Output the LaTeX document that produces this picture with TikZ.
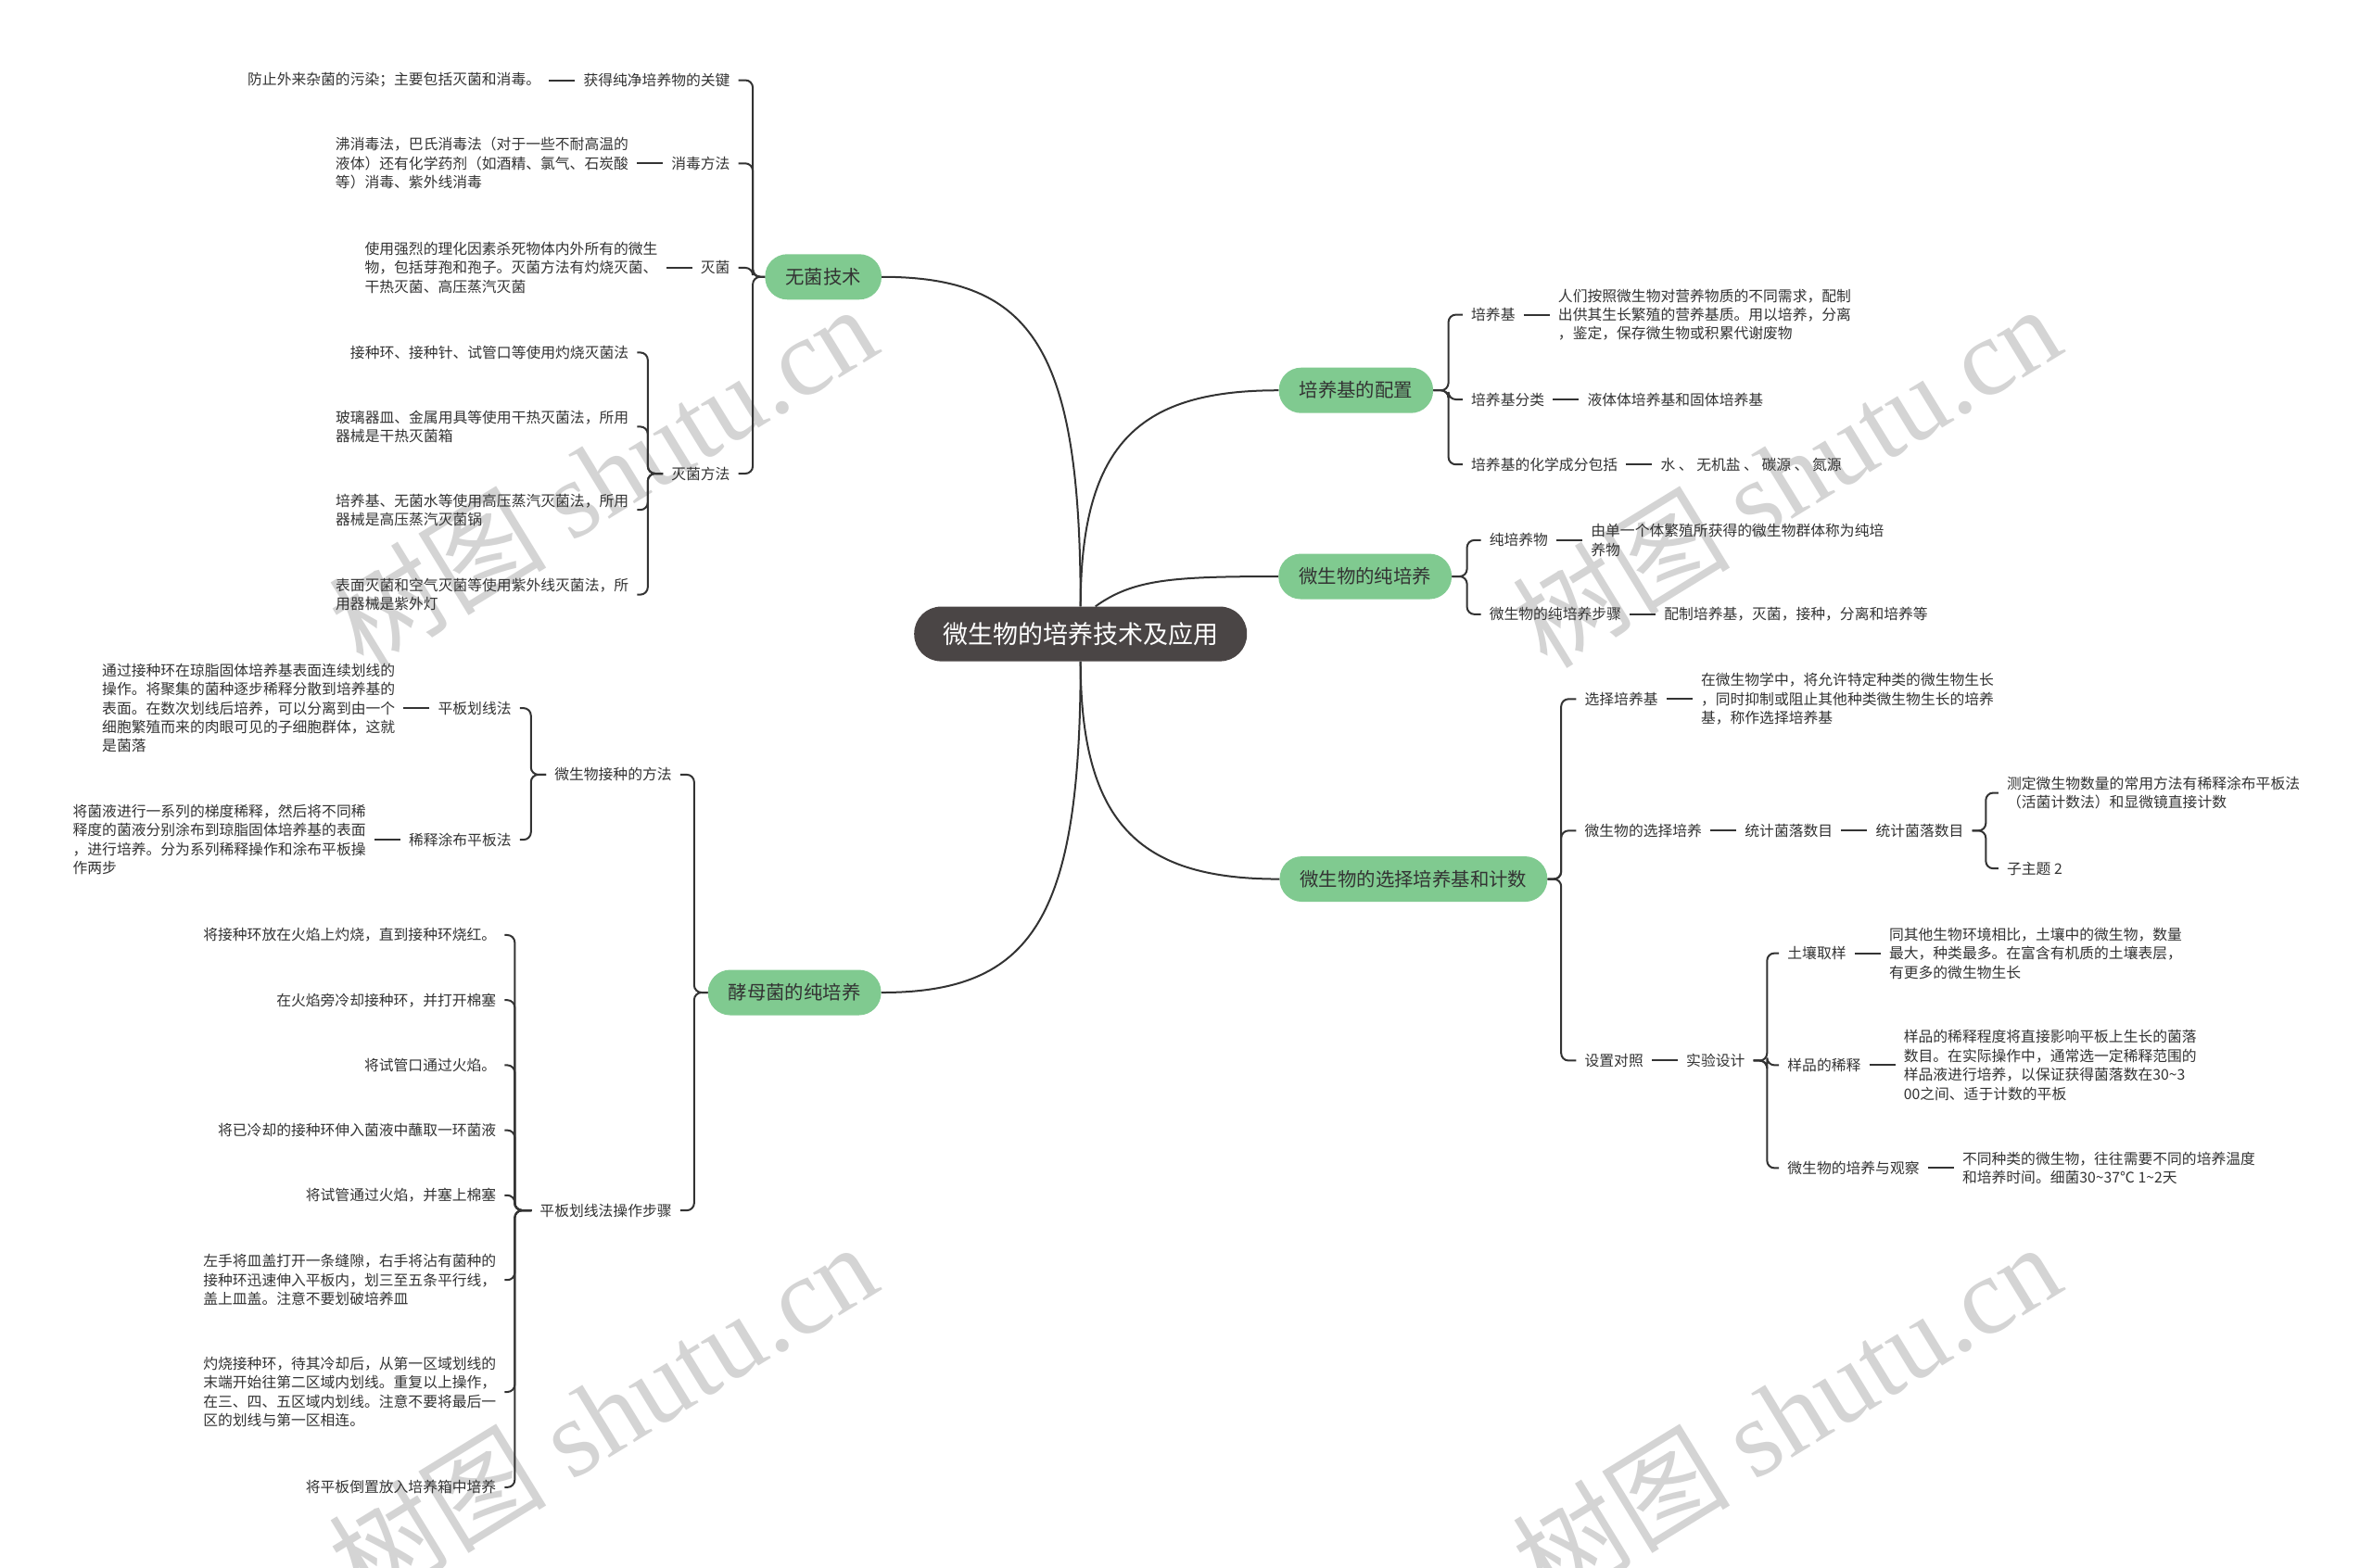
\documentclass[tikz,border=0pt]{standalone}
\usepackage{fontspec}
\setmainfont{Noto Sans CJK SC}
\newfontfamily\wmlatin{Liberation Serif}
\usetikzlibrary{positioning}
\definecolor{rootgray}{HTML}{4A4545}
\definecolor{leafgreen}{HTML}{80CA90}
\definecolor{linegray}{HTML}{333333}
\definecolor{textgray}{HTML}{333333}
\definecolor{wmgray}{HTML}{D4D4D4}

\begin{document}
\begin{tikzpicture}[x=1.6327pt, y=-1.6327pt,
	every node/.style={font=\fontsize{15.8}{20.4}\selectfont, text=textgray},
	topic/.style={fill=rootgray, text=white, rounded corners=29pt, minimum height=59pt, inner xsep=31pt, font=\fontsize{27}{27}\selectfont},
	branch/.style={fill=leafgreen, rounded corners=24pt, minimum height=49pt, inner xsep=22pt, font=\fontsize{20.4}{20.4}\selectfont},
	leaf/.style={inner xsep=9pt, inner ysep=2pt, align=left},
	link/.style={draw=linegray, line width=2pt},
	fork/.style={link, rounded corners=8pt},
	wmark/.style={text=wmgray, inner sep=0pt, font=\fontsize{118}{118}\selectfont, rotate=31.5}]
	\useasboundingbox[fill=white] (0,0) rectangle (1568,1036);
	\node[wmark] (wm1) at (398,314) {树图 {\wmlatin shutu.cn}};
	\node[wmark] (wm2) at (1180,314) {树图 {\wmlatin shutu.cn}};
	\node[wmark] (wm3) at (398,934) {树图 {\wmlatin shutu.cn}};
	\node[wmark] (wm4) at (1180,934) {树图 {\wmlatin shutu.cn}};

	\node[topic] (root) at (714,419) {微生物的培养技术及应用};
	\node[branch] (wjjs) at (544,183) {无菌技术};
	\node[branch] (jmj) at (525,656) {酵母菌的纯培养};
	\node[branch] (pyj) at (896,258) {培养基的配置};
	\node[branch] (cpy) at (902,381) {微生物的纯培养};
	\node[branch] (xzpy) at (934,581) {微生物的选择培养基和计数};
	\draw[link] (root.north) .. controls +(0,-170) and +(100,0) .. (wjjs.east);
	\draw[link] (root.south) .. controls +(0,170) and +(100,0) .. (jmj.east);
	\draw[link] (root.north) .. controls +(0,-110) and +(-90,0) .. (pyj.west);
	\draw[link] ([xshift=16pt]root.north) .. controls +(25,-18) and +(-70,0) .. (cpy.west);
	\draw[link] (root.south) .. controls +(0,110) and +(-90,0) .. (xzpy.west);

	\node[leaf, anchor=east] (wj1) at (488,53) {获得纯净培养物的关键};
	\node[leaf, left=28pt of wj1] (wj1d) {防止外来杂菌的污染；主要包括灭菌和消毒。};
	\node[leaf, anchor=east] (wj2) at (488,108) {消毒方法};
	\node[leaf, left=28pt of wj2] (wj2d) {沸消毒法，巴氏消毒法（对于一些不耐高温的\\液体）还有化学药剂（如酒精、氯气、石炭酸\\等）消毒、紫外线消毒};
	\node[leaf, anchor=east] (wj3) at (488,177) {灭菌};
	\node[leaf, left=28pt of wj3] (wj3d) {使用强烈的理化因素杀死物体内外所有的微生\\物，包括芽孢和孢子。灭菌方法有灼烧灭菌、\\干热灭菌、高压蒸汽灭菌};
	\node[leaf, anchor=east] (wj4) at (488,313) {灭菌方法};
	\node[leaf, anchor=east] (mj1) at (421,233) {接种环、接种针、试管口等使用灼烧灭菌法};
	\node[leaf, anchor=east] (mj2) at (421,282) {玻璃器皿、金属用具等使用干热灭菌法，所用\\器械是干热灭菌箱};
	\node[leaf, anchor=east] (mj3) at (421,337) {培养基、无菌水等使用高压蒸汽灭菌法，所用\\器械是高压蒸汽灭菌锅};
	\node[leaf, anchor=east] (mj4) at (421,393) {表面灭菌和空气灭菌等使用紫外线灭菌法，所\\用器械是紫外灯};
	\draw[link] (wj1) -- (wj1d);
	\draw[link] (wj2) -- (wj2d);
	\draw[link] (wj3) -- (wj3d);
	\draw[fork] (wjjs.west) -- ++(-8,0) |- (wj1.east);
	\draw[fork] (wjjs.west) -- ++(-8,0) |- (wj2.east);
	\draw[fork] (wjjs.west) -- ++(-8,0) |- (wj3.east);
	\draw[fork] (wjjs.west) -- ++(-8,0) |- (wj4.east);
	\draw[fork] (wj4.west) -- ++(-10,0) |- (mj1.east);
	\draw[fork] (wj4.west) -- ++(-10,0) |- (mj2.east);
	\draw[fork] (wj4.west) -- ++(-10,0) |- (mj3.east);
	\draw[fork] (wj4.west) -- ++(-10,0) |- (mj4.east);

	\node[leaf, anchor=east] (jz) at (449.5,512) {微生物接种的方法};
	\node[leaf, anchor=east] (jz1) at (343.5,468) {平板划线法};
	\node[leaf, left=28pt of jz1] (jz1d) {通过接种环在琼脂固体培养基表面连续划线的\\操作。将聚集的菌种逐步稀释分散到培养基的\\表面。在数次划线后培养，可以分离到由一个\\细胞繁殖而来的肉眼可见的子细胞群体，这就\\是菌落};
	\node[leaf, anchor=east] (jz2) at (343.5,555) {稀释涂布平板法};
	\node[leaf, left=28pt of jz2] (jz2d) {将菌液进行一系列的梯度稀释，然后将不同稀\\释度的菌液分别涂布到琼脂固体培养基的表面\\，进行培养。分为系列稀释操作和涂布平板操\\作两步};
	\node[leaf, anchor=east] (bz) at (449.5,800) {平板划线法操作步骤};
	\node[leaf, anchor=east] (bz1) at (333.5,618) {将接种环放在火焰上灼烧，直到接种环烧红。};
	\node[leaf, anchor=east] (bz2) at (333.5,661) {在火焰旁冷却接种环，并打开棉塞};
	\node[leaf, anchor=east] (bz3) at (333.5,704) {将试管口通过火焰。};
	\node[leaf, anchor=east] (bz4) at (333.5,747) {将已冷却的接种环伸入菌液中蘸取一环菌液};
	\node[leaf, anchor=east] (bz5) at (333.5,790) {将试管通过火焰，并塞上棉塞};
	\node[leaf, anchor=east] (bz6) at (333.5,846) {左手将皿盖打开一条缝隙，右手将沾有菌种的\\接种环迅速伸入平板内，划三至五条平行线，\\盖上皿盖。注意不要划破培养皿};
	\node[leaf, anchor=east] (bz7) at (333.5,920) {灼烧接种环，待其冷却后，从第一区域划线的\\末端开始往第二区域内划线。重复以上操作，\\在三、四、五区域内划线。注意不要将最后一\\区的划线与第一区相连。};
	\node[leaf, anchor=east] (bz8) at (333.5,983) {将平板倒置放入培养箱中培养};
	\draw[link] (jz1) -- (jz1d);
	\draw[link] (jz2) -- (jz2d);
	\draw[fork] (jmj.west) -- ++(-9,0) |- (jz.east);
	\draw[fork] (jmj.west) -- ++(-9,0) |- (bz.east);
	\draw[fork] (jz.west) -- ++(-10,0) |- (jz1.east);
	\draw[fork] (jz.west) -- ++(-10,0) |- (jz2.east);
	\draw[fork] (bz.west) -- ++(-11,0) |- (bz1.east);
	\draw[fork] (bz.west) -- ++(-11,0) |- (bz2.east);
	\draw[fork] (bz.west) -- ++(-11,0) |- (bz3.east);
	\draw[fork] (bz.west) -- ++(-11,0) |- (bz4.east);
	\draw[fork] (bz.west) -- ++(-11,0) |- (bz5.east);
	\draw[fork] (bz.west) -- ++(-11,0) |- (bz6.east);
	\draw[fork] (bz.west) -- ++(-11,0) |- (bz7.east);
	\draw[fork] (bz.west) -- ++(-11,0) |- (bz8.east);

	\node[leaf, anchor=west] (py1) at (966.5,208) {培养基};
	\node[leaf, right=28pt of py1] (py1d) {人们按照微生物对营养物质的不同需求，配制\\出供其生长繁殖的营养基质。用以培养，分离\\，鉴定，保存微生物或积累代谢废物};
	\node[leaf, anchor=west] (py2) at (966.5,264) {培养基分类};
	\node[leaf, right=28pt of py2] (py2d) {液体体培养基和固体培养基};
	\node[leaf, anchor=west] (py3) at (966.5,307) {培养基的化学成分包括};
	\node[leaf, right=28pt of py3] (py3d) {水 、 无机盐 、 碳源 、 氮源};
	\draw[link] (py1) -- (py1d);
	\draw[link] (py2) -- (py2d);
	\draw[link] (py3) -- (py3d);
	\draw[fork] (pyj.east) -- ++(10,0) |- (py1.west);
	\draw[fork] (pyj.east) -- ++(10,0) |- (py2.west);
	\draw[fork] (pyj.east) -- ++(10,0) |- (py3.west);

	\node[leaf, anchor=west] (cp1) at (978.5,357) {纯培养物};
	\node[leaf, right=28pt of cp1] (cp1d) {由单一个体繁殖所获得的微生物群体称为纯培\\养物};
	\node[leaf, anchor=west] (cp2) at (978.5,406) {微生物的纯培养步骤};
	\node[leaf, right=28pt of cp2] (cp2d) {配制培养基，灭菌，接种，分离和培养等};
	\draw[link] (cp1) -- (cp1d);
	\draw[link] (cp2) -- (cp2d);
	\draw[fork] (cpy.east) -- ++(10,0) |- (cp1.west);
	\draw[fork] (cpy.east) -- ++(10,0) |- (cp2.west);

	\node[leaf, anchor=west] (xz1) at (1041.5,462) {选择培养基};
	\node[leaf, right=28pt of xz1] (xz1d) {在微生物学中，将允许特定种类的微生物生长\\，同时抑制或阻止其他种类微生物生长的培养\\基，称作选择培养基};
	\node[leaf, anchor=west] (xz2) at (1041.5,549) {微生物的选择培养};
	\node[leaf, right=28pt of xz2] (tj1) {统计菌落数目};
	\node[leaf, right=28pt of tj1] (tj2) {统计菌落数目};
	\node[leaf, anchor=west] (tj2a) at (1320.5,524) {测定微生物数量的常用方法有稀释涂布平板法\\（活菌计数法）和显微镜直接计数};
	\node[leaf, anchor=west] (tj2b) at (1320.5,574) {子主题 2};
	\node[leaf, anchor=west] (xz3) at (1041.5,701) {设置对照};
	\node[leaf, right=28pt of xz3] (sj) {实验设计};
	\node[leaf, anchor=west] (sj1) at (1175.5,630) {土壤取样};
	\node[leaf, right=28pt of sj1] (sj1d) {同其他生物环境相比，土壤中的微生物，数量\\最大，种类最多。在富含有机质的土壤表层，\\有更多的微生物生长};
	\node[leaf, anchor=west] (sj2) at (1175.5,704) {样品的稀释};
	\node[leaf, right=28pt of sj2] (sj2d) {样品的稀释程度将直接影响平板上生长的菌落\\数目。在实际操作中，通常选一定稀释范围的\\样品液进行培养，以保证获得菌落数在30\textasciitilde3\\00之间、适于计数的平板};
	\node[leaf, anchor=west] (sj3) at (1175.5,772) {微生物的培养与观察};
	\node[leaf, right=28pt of sj3] (sj3d) {不同种类的微生物，往往需要不同的培养温度\\和培养时间。细菌30\textasciitilde37℃ 1\textasciitilde2天};
	\draw[link] (xz1) -- (xz1d);
	\draw[link] (xz2) -- (tj1);
	\draw[link] (tj1) -- (tj2);
	\draw[link] (xz3) -- (sj);
	\draw[link] (sj1) -- (sj1d);
	\draw[link] (sj2) -- (sj2d);
	\draw[link] (sj3) -- (sj3d);
	\draw[fork] (xzpy.east) -- ++(9,0) |- (xz1.west);
	\draw[fork] (xzpy.east) -- ++(9,0) |- (xz2.west);
	\draw[fork] (xzpy.east) -- ++(9,0) |- (xz3.west);
	\draw[fork] (tj2.east) -- ++(9,0) |- (tj2a.west);
	\draw[fork] (tj2.east) -- ++(9,0) |- (tj2b.west);
	\draw[fork] (sj.east) -- ++(9,0) |- (sj1.west);
	\draw[fork] (sj.east) -- ++(9,0) |- (sj2.west);
	\draw[fork] (sj.east) -- ++(9,0) |- (sj3.west);
\end{tikzpicture}
\end{document}
